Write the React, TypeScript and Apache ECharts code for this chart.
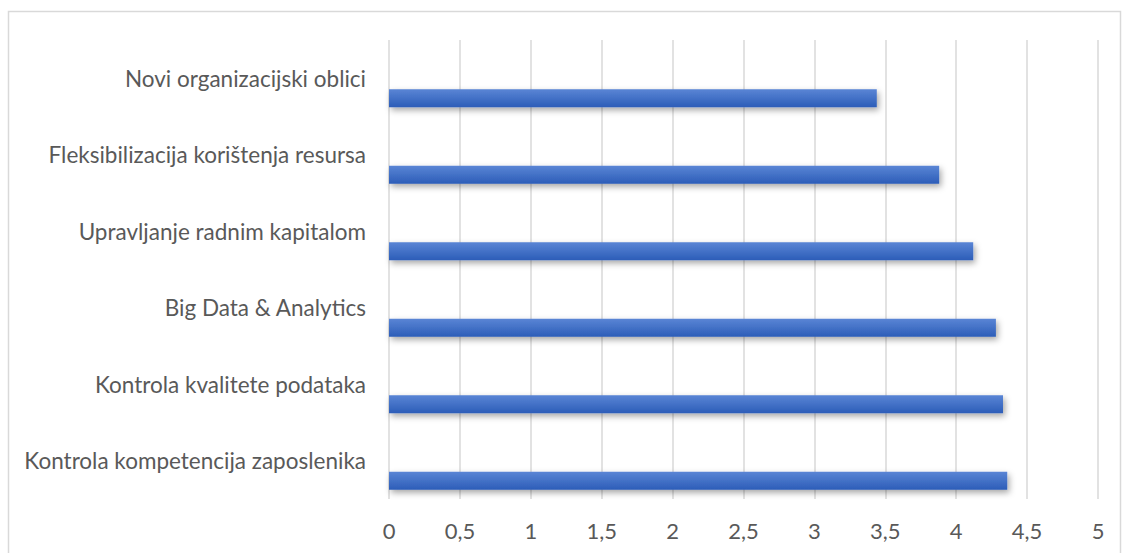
import React, { useEffect, useRef } from "react";
import * as echarts from "echarts";

const categories = [
  "Kontrola kompetencija zaposlenika",
  "Kontrola kvalitete podataka",
  "Big Data & Analytics",
  "Upravljanje radnim kapitalom",
  "Fleksibilizacija korištenja resursa",
  "Novi organizacijski oblici",
];
const values = [4.36, 4.33, 4.28, 4.12, 3.88, 3.44];
const emptyValues = categories.map(() => null);

const FONT = "Lato, 'Liberation Sans', sans-serif";

export default function App() {
  const ref = useRef<HTMLDivElement>(null);
  useEffect(() => {
    document.body.style.margin = "0";
    const chart = echarts.init(ref.current!, null, { renderer: "svg" });
    chart.setOption({
      animation: false,
      backgroundColor: "#ffffff",
      graphic: [
        {
          type: "rect",
          shape: { x: 8.5, y: 11.5, width: 1112, height: 560 },
          style: { fill: "none", stroke: "#d9d9d9", lineWidth: 1.5 },
          silent: true,
          z: -1,
        },
      ],
      grid: { left: 389, right: 24, top: 40, bottom: 54, containLabel: false },
      xAxis: {
        type: "value",
        min: 0,
        max: 5,
        interval: 0.5,
        axisLine: { show: false },
        axisTick: { show: false },
        splitLine: { show: true, lineStyle: { color: "#d9d9d9", width: 1.5 } },
        axisLabel: {
          color: "#595959",
          fontFamily: FONT,
          fontSize: 22,
          margin: 20,
          formatter: (v: number) => String(v).replace(".", ","),
        },
      },
      yAxis: {
        type: "category",
        data: categories,
        axisLine: { show: false },
        axisTick: { show: false },
        splitLine: { show: false },
        axisLabel: {
          color: "#595959",
          fontFamily: FONT,
          fontSize: 22.5,
          margin: 23,
        },
      },
      series: [
        {
          type: "bar",
          data: emptyValues,
          barWidth: 18,
          barGap: "122%",
        },
        {
          type: "bar",
          data: values,
          barWidth: 18,
          barGap: "122%",
          itemStyle: {
            color: new echarts.graphic.LinearGradient(0, 0, 0, 1, [
              { offset: 0, color: "#5a85d5" },
              { offset: 1, color: "#2c5db8" },
            ]),
            shadowColor: "rgba(0,0,0,0.35)",
            shadowBlur: 6,
            shadowOffsetX: 2,
            shadowOffsetY: 3,
          },
        },
      ],
    });
    return () => chart.dispose();
  }, []);
  return (
    <div
      ref={ref}
      style={{ position: "fixed", left: 0, top: 0, width: 1122, height: 553 }}
    />
  );
}
